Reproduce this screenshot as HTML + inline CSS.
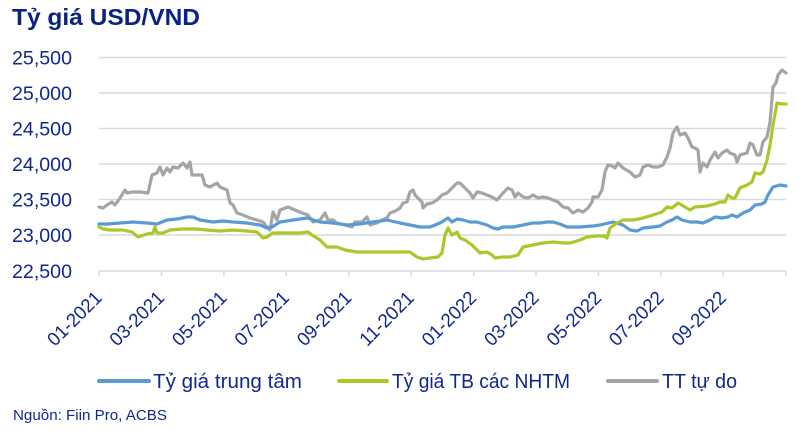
<!DOCTYPE html>
<html><head><meta charset="utf-8"><style>
html,body{margin:0;padding:0;background:#fff;}
svg{display:block;}
text{font-family:"Liberation Sans",Arial,sans-serif;fill:#10288c;}
</style></head><body>
<svg width="802" height="430" viewBox="0 0 802 430" xmlns="http://www.w3.org/2000/svg">
<rect width="802" height="430" fill="#fff"/>
<text x="12" y="25" font-size="23.5" font-weight="bold" fill="#0c2282" style="fill:#0c2282" textLength="188" lengthAdjust="spacingAndGlyphs">Tỷ giá USD/VND</text>
<g stroke="#d9d9d9" stroke-width="1.5">
<line x1="99" y1="57.5" x2="786" y2="57.5"/>
<line x1="99" y1="93" x2="786" y2="93"/>
<line x1="99" y1="128.5" x2="786" y2="128.5"/>
<line x1="99" y1="164" x2="786" y2="164"/>
<line x1="99" y1="199.5" x2="786" y2="199.5"/>
<line x1="99" y1="235" x2="786" y2="235"/>
<line x1="99" y1="271" x2="786" y2="271"/>
<line x1="99" y1="271" x2="99" y2="276"/>
<line x1="161.4" y1="271" x2="161.4" y2="276"/>
<line x1="223.9" y1="271" x2="223.9" y2="276"/>
<line x1="286.3" y1="271" x2="286.3" y2="276"/>
<line x1="348.7" y1="271" x2="348.7" y2="276"/>
<line x1="411.2" y1="271" x2="411.2" y2="276"/>
<line x1="473.6" y1="271" x2="473.6" y2="276"/>
<line x1="536" y1="271" x2="536" y2="276"/>
<line x1="598.5" y1="271" x2="598.5" y2="276"/>
<line x1="660.9" y1="271" x2="660.9" y2="276"/>
<line x1="723.3" y1="271" x2="723.3" y2="276"/>
<line x1="785.8" y1="271" x2="785.8" y2="276"/>
</g>
<g font-size="19.5" text-anchor="end">
<text x="72" y="64.5" textLength="60" lengthAdjust="spacingAndGlyphs">25,500</text>
<text x="72" y="100" textLength="60" lengthAdjust="spacingAndGlyphs">25,000</text>
<text x="72" y="135.5" textLength="60" lengthAdjust="spacingAndGlyphs">24,500</text>
<text x="72" y="171" textLength="60" lengthAdjust="spacingAndGlyphs">24,000</text>
<text x="72" y="206.5" textLength="60" lengthAdjust="spacingAndGlyphs">23,500</text>
<text x="72" y="242" textLength="60" lengthAdjust="spacingAndGlyphs">23,000</text>
<text x="72" y="278" textLength="60" lengthAdjust="spacingAndGlyphs">22,500</text>
</g>
<g font-size="19" text-anchor="end">
<text x="103" y="299" transform="rotate(-45 103 299)" textLength="68" lengthAdjust="spacingAndGlyphs">01-2021</text>
<text x="165.4" y="299" transform="rotate(-45 165.4 299)" textLength="68" lengthAdjust="spacingAndGlyphs">03-2021</text>
<text x="227.9" y="299" transform="rotate(-45 227.9 299)" textLength="68" lengthAdjust="spacingAndGlyphs">05-2021</text>
<text x="290.3" y="299" transform="rotate(-45 290.3 299)" textLength="68" lengthAdjust="spacingAndGlyphs">07-2021</text>
<text x="352.7" y="299" transform="rotate(-45 352.7 299)" textLength="68" lengthAdjust="spacingAndGlyphs">09-2021</text>
<text x="415.2" y="299" transform="rotate(-45 415.2 299)" textLength="68" lengthAdjust="spacingAndGlyphs">11-2021</text>
<text x="477.6" y="299" transform="rotate(-45 477.6 299)" textLength="68" lengthAdjust="spacingAndGlyphs">01-2022</text>
<text x="540" y="299" transform="rotate(-45 540 299)" textLength="68" lengthAdjust="spacingAndGlyphs">03-2022</text>
<text x="602.5" y="299" transform="rotate(-45 602.5 299)" textLength="68" lengthAdjust="spacingAndGlyphs">05-2022</text>
<text x="664.9" y="299" transform="rotate(-45 664.9 299)" textLength="68" lengthAdjust="spacingAndGlyphs">07-2022</text>
<text x="727.3" y="299" transform="rotate(-45 727.3 299)" textLength="68" lengthAdjust="spacingAndGlyphs">09-2022</text>
</g>
<g fill="none" stroke-width="3.2" stroke-linejoin="round" stroke-linecap="round">
<polyline stroke="#a5a5a5" points="99,207 103,208 107,205 112,202 115,205 120,198 125,190 127,193 132,192 140,192 148,193 152,175 157,173 160,167 163,175 167,168 170,172 173,167 178,168 183,163 187,168 190,162 192,175 197,175 202,175 205,185 210,187 217,183 220,187 227,190 230,203 233,205 237,213 243,215 250,218 257,220 263,222 267,227 270,230 273,212 277,220 280,210 288,207 295,210 302,213 308,215 313,222 320,220 325,213 328,220 333,220 337,223 345,225 352,227 355,222 362,222 367,217 370,225 377,223 382,220 387,218 390,213 393,212 397,210 400,208 403,203 407,202 410,192 413,190 415,195 418,198 422,202 423,208 427,204 432,203 437,200 442,195 447,193 452,188 457,183 460,183 465,188 470,193 473,198 477,192 482,193 487,195 492,197 497,200 503,193 508,188 512,190 515,197 518,193 523,197 528,198 533,195 538,198 543,197 548,198 553,200 558,202 563,207 568,208 573,213 578,210 583,212 588,208 592,202 593,197 598,197 602,190 605,172 608,165 612,166 615,168 618,163 623,168 630,172 635,177 640,175 643,167 648,165 653,167 658,167 663,165 667,157 670,148 673,133 677,127 680,135 685,133 688,138 692,147 695,148 698,150 700,172 703,163 707,167 710,160 715,152 718,158 722,153 727,150 730,153 735,155 737,162 740,155 747,153 750,143 753,145 757,155 760,155 763,142 767,137 770,122 773,87 776,83 778,75 782,70 786,73"/>
<polyline stroke="#5b9bd5" points="99,224 107,224 120,223 133,222 147,223 157,224 167,220 177,219 187,217 193,217 200,220 213,222 223,221 233,222 247,223 260,225 267,228 272,227 280,222 293,220 307,218 320,222 333,223 347,225 360,224 373,222 387,220 400,223 420,227 430,227 440,223 448,218 452,222 457,219 463,220 470,222 477,222 487,225 493,228 498,229 503,227 513,227 523,225 533,223 540,223 547,222 553,222 560,224 567,227 580,227 593,226 600,225 613,222 623,225 630,230 637,231 643,228 653,227 660,226 667,222 672,220 677,217 682,220 690,222 697,222 703,223 710,220 715,217 722,218 728,217 732,215 737,217 743,213 750,210 755,205 762,204 765,202 768,195 773,187 780,185 786,186"/>
<polyline stroke="#a9c92a" points="99,227 103,229 110,230 123,230 132,232 138,237 147,234 153,233 155,227 157,233 163,233 170,230 183,229 197,229 207,230 220,231 233,230 247,231 257,232 263,238 267,237 273,233 287,233 300,233 308,232 312,235 320,240 327,247 337,247 345,250 357,252 380,252 410,252 417,257 423,259 430,258 438,257 442,253 445,235 448,228 452,235 457,232 460,238 465,240 472,245 480,253 487,252 492,255 495,258 502,257 510,257 518,255 523,247 533,245 543,243 553,242 563,243 570,243 580,240 587,237 597,236 604,236 607,238 610,228 617,223 623,220 633,220 643,218 653,215 662,212 667,207 672,208 678,203 685,207 690,210 695,207 707,206 715,204 720,202 725,202 728,195 732,198 735,198 740,188 747,185 752,182 755,173 760,174 763,172 767,160 770,145 773,125 777,103 782,104 786,104"/>
</g>
<g stroke-width="4" stroke-linecap="round">
<line x1="99" y1="381" x2="149" y2="381" stroke="#5b9bd5"/>
<line x1="339" y1="381" x2="387" y2="381" stroke="#a9c92a"/>
<line x1="608" y1="381" x2="657" y2="381" stroke="#a5a5a5"/>
</g>
<g font-size="20.5">
<text x="153" y="388" textLength="149" lengthAdjust="spacingAndGlyphs">Tỷ giá trung tâm</text>
<text x="392" y="388" textLength="178" lengthAdjust="spacingAndGlyphs">Tỷ giá TB các NHTM</text>
<text x="662" y="388" textLength="75" lengthAdjust="spacingAndGlyphs">TT tự do</text>
</g>
<text x="13" y="420" font-size="15" textLength="154" lengthAdjust="spacingAndGlyphs">Nguồn: Fiin Pro, ACBS</text>
</svg>
</body></html>
